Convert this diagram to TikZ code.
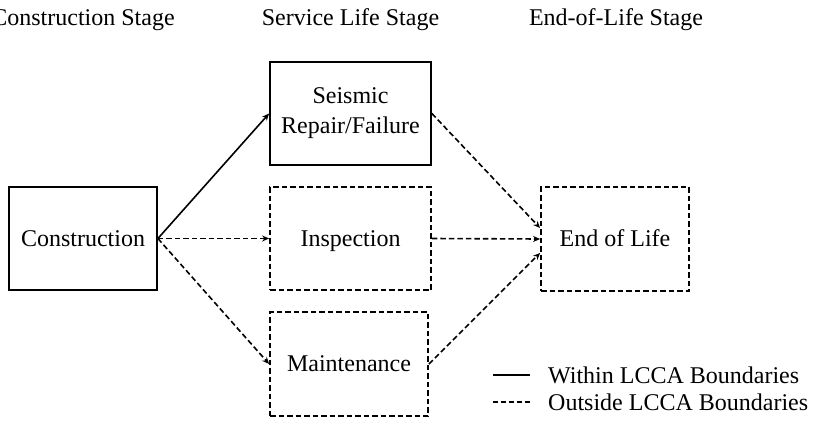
\documentclass[tikz,border=0pt]{standalone}
\usepackage{fontspec}
\setmainfont{Liberation Serif}
\usetikzlibrary{arrows.meta,calc}
\begin{document}
\begin{tikzpicture}[x=1pt,y=-1pt,
  txt/.style={font=\fontsize{24}{30}\selectfont, inner sep=0pt},
  solidbox/.style={draw, line width=1.8pt, minimum height=103pt, align=center, font=\fontsize{24}{30}\selectfont, inner sep=0pt},
  onebox/.style={text height=17pt, text depth=2pt},
  dashbox/.style={solidbox, onebox, dash pattern=on 5.5pt off 3pt},
  conn/.style={line width=1.6pt, -{Stealth[length=7pt,width=6pt]}},
  dconn/.style={conn, dash pattern=on 5.5pt off 3pt}]
\useasboundingbox (0,0) rectangle (817,423);
% headings
\node[txt] (h1) at (83,20) {Construction Stage};
\node[txt] (h2) at (350.5,20) {Service Life Stage};
\node[txt] (h3) at (616,20) {End-of-Life Stage};
% boxes
\node[solidbox, onebox, minimum width=148pt] (con) at (83,238.5) {Construction};
\node[solidbox, minimum width=161pt] (sei) at (350.5,113.5) {Seismic\\Repair/Failure};
\node[dashbox, minimum width=161pt] (ins) at (350.5,238.5) {Inspection};
\node[dashbox, minimum width=158pt, minimum height=104pt] (mai) at (349,364) {Maintenance};
\node[dashbox, minimum width=148pt, minimum height=104pt] (eol) at (615,239) {End of Life};
% target coordinates
\coordinate (e1) at ($(eol.west)+(0,-11)$);
\coordinate (e3) at ($(eol.west)+(0,14)$);
% connectors
\draw[conn] (con.east) -- (sei.west);
\draw[dconn] (con.east) -- (ins.west);
\draw[dconn] (con.east) -- (mai.west);
\draw[dconn] (sei.east) -- (e1);
\draw[dconn] (ins.east) -- (eol.west);
\draw[dconn] (mai.east) -- (e3);
% legend
\coordinate (l1a) at (493,375);
\coordinate (l1b) at (530,375);
\coordinate (l2a) at (493,402);
\coordinate (l2b) at (530,402);
\draw[line width=1.6pt] (l1a) -- (l1b);
\draw[line width=1.6pt, dash pattern=on 5pt off 3pt] (l2a) -- (l2b);
\node[txt, anchor=west] (lt1) at (548,375) {Within LCCA Boundaries};
\node[txt, anchor=west] (lt2) at (548,402) {Outside LCCA Boundaries};
\end{tikzpicture}
\end{document}
